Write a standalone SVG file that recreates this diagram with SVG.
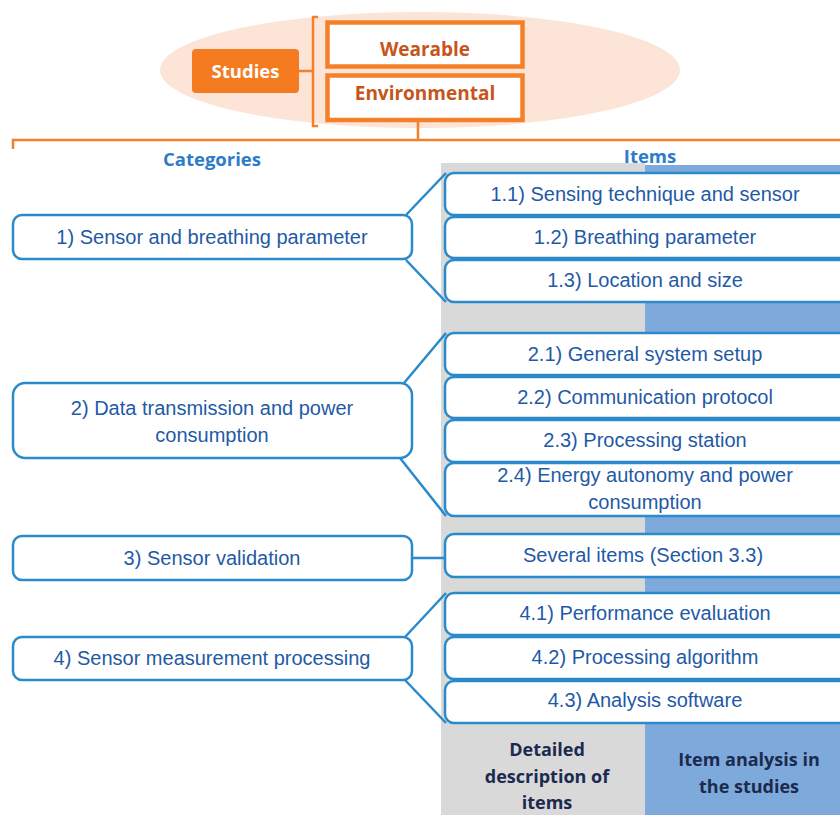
<svg xmlns="http://www.w3.org/2000/svg" width="840" height="815" viewBox="0 0 840 815">
  <style>
    .cat { fill: #ffffff; stroke: #2A8ACB; stroke-width: 2.5; }
    .item { fill: #ffffff; stroke: #2A8ACB; stroke-width: 2.5; }
    .t { font-family: "Liberation Sans", Arial, sans-serif; font-size: 20px; fill: #1F5AA6; text-anchor: middle; }
    .head { font-family: "Open Sans", "Liberation Sans", sans-serif; font-size: 18.5px; font-weight: bold; fill: #2E7BC8; text-anchor: middle; }
    .orange { fill: none; stroke: #F4802A; stroke-width: 2.5; }
    .obox { fill: #ffffff; stroke: #F4802A; stroke-width: 4.5; }
    .otext { font-family: "Open Sans", "Liberation Sans", sans-serif; font-size: 19px; font-weight: bold; fill: #C5551A; text-anchor: middle; }
    .foot { font-family: "Open Sans", "Liberation Sans", sans-serif; font-size: 18px; font-weight: bold; fill: #1B2A4E; text-anchor: middle; }
    .conn { fill: none; stroke: #2A8ACB; stroke-width: 2.5; }
  </style>

  <rect width="840" height="815" fill="#ffffff"/>

  <!-- column backgrounds -->
  <rect x="441" y="163" width="204" height="652" fill="#D9D9D9"/>
  <rect x="645" y="165" width="195" height="650" fill="#7EA9DB"/>

  <!-- study types -->
  <g id="studies-header">
    <ellipse cx="420" cy="70" rx="260" ry="58" fill="#FCE4D6"/>
    <rect x="192" y="49" width="107" height="44" rx="4" fill="#F47B20"/>
    <text x="245.5" y="78" font-family="'Open Sans', 'Liberation Sans', sans-serif" font-size="18.5" font-weight="bold" fill="#ffffff" text-anchor="middle">Studies</text>
    <line class="orange" x1="299" y1="71" x2="313" y2="71"/>
    <path class="orange" d="M318,17 H313 V126 H318"/>
  </g>
  <g id="wearable">
    <rect class="obox" x="327.5" y="22.5" width="195" height="44"/>
    <text class="otext" x="425" y="56">Wearable</text>
  </g>
  <g id="environmental">
    <rect class="obox" x="327.5" y="75.5" width="195" height="44.5"/>
    <text class="otext" x="425" y="100">Environmental</text>
  </g>
  <path class="orange" d="M418,122 V140 M13,149 V140 H840"/>

  <text class="head" x="212" y="166">Categories</text>
  <text class="head" x="650" y="163">Items</text>

  <!-- connectors between categories and items -->
  <g id="connectors">
    <path class="conn" d="M406,215 L446,173 M406,260 L446,302"/>
    <path class="conn" d="M404,383 L446,333 M400,458 L446,516"/>
    <path class="conn" d="M412,558 H446"/>
    <path class="conn" d="M405,637 L446,593 M405,680 L446,723"/>
  </g>

  <!-- categories -->
  <g id="cat1">
    <rect class="cat" x="13" y="215" width="399" height="44" rx="9"/>
    <text class="t" x="212" y="244">1) Sensor and breathing parameter</text>
  </g>
  <g id="cat2">
    <rect class="cat" x="13" y="383" width="399" height="75" rx="12"/>
    <text class="t" x="212" y="415">2) Data transmission and power</text>
    <text class="t" x="212" y="442">consumption</text>
  </g>
  <g id="cat3">
    <rect class="cat" x="13" y="536" width="399" height="44" rx="9"/>
    <text class="t" x="212" y="565">3) Sensor validation</text>
  </g>
  <g id="cat4">
    <rect class="cat" x="13" y="637" width="399" height="43" rx="9"/>
    <text class="t" x="212" y="665">4) Sensor measurement processing</text>
  </g>

  <!-- items -->
  <g id="item1-1">
    <rect class="item" x="445" y="173" width="410" height="42" rx="9"/>
    <text class="t" x="645" y="201">1.1) Sensing technique and sensor</text>
  </g>
  <g id="item1-2">
    <rect class="item" x="445" y="217" width="410" height="41" rx="9"/>
    <text class="t" x="645" y="244">1.2) Breathing parameter</text>
  </g>
  <g id="item1-3">
    <rect class="item" x="445" y="260" width="410" height="42" rx="9"/>
    <text class="t" x="645" y="287">1.3) Location and size</text>
  </g>

  <g id="item2-1">
    <rect class="item" x="445" y="333" width="410" height="42" rx="9"/>
    <text class="t" x="645" y="361">2.1) General system setup</text>
  </g>
  <g id="item2-2">
    <rect class="item" x="445" y="377" width="410" height="41" rx="9"/>
    <text class="t" x="645" y="404">2.2) Communication protocol</text>
  </g>
  <g id="item2-3">
    <rect class="item" x="445" y="420" width="410" height="42" rx="9"/>
    <text class="t" x="645" y="447">2.3) Processing station</text>
  </g>
  <g id="item2-4">
    <rect class="item" x="445" y="463" width="410" height="53" rx="9"/>
    <text class="t" x="645" y="482">2.4) Energy autonomy and power</text>
    <text class="t" x="645" y="509">consumption</text>
  </g>

  <g id="item3">
    <rect class="item" x="445" y="534" width="410" height="43" rx="9"/>
    <text class="t" x="643" y="562">Several items (Section 3.3)</text>
  </g>

  <g id="item4-1">
    <rect class="item" x="445" y="593" width="410" height="42" rx="9"/>
    <text class="t" x="645" y="620">4.1) Performance evaluation</text>
  </g>
  <g id="item4-2">
    <rect class="item" x="445" y="637" width="410" height="42" rx="9"/>
    <text class="t" x="645" y="664">4.2) Processing algorithm</text>
  </g>
  <g id="item4-3">
    <rect class="item" x="445" y="681" width="410" height="42" rx="9"/>
    <text class="t" x="645" y="707">4.3) Analysis software</text>
  </g>

  <!-- column captions -->
  <g id="caption-description">
    <text class="foot" x="547" y="756">Detailed</text>
    <text class="foot" x="547" y="783">description of</text>
    <text class="foot" x="547" y="809">items</text>
  </g>
  <g id="caption-analysis">
    <text class="foot" x="749" y="766">Item analysis in</text>
    <text class="foot" x="749" y="793">the studies</text>
  </g>
</svg>
